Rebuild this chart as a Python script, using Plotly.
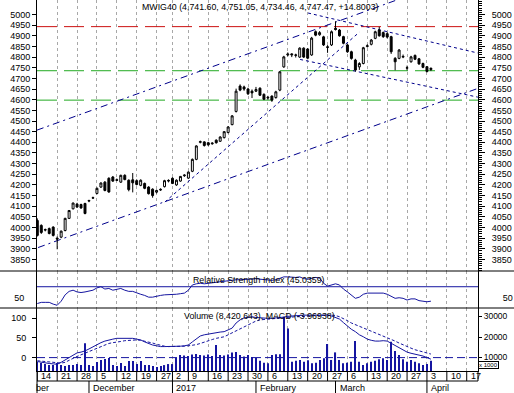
import pandas as pd
import plotly.graph_objects as go

# ---------------- data ----------------
HOLIDAYS = ["2016-12-26", "2017-01-06"]
calendar = [d.strftime("%Y-%m-%d") for d in pd.bdate_range("2016-11-14", "2017-04-21")
            if d.strftime("%Y-%m-%d") not in HOLIDAYS]

opens = [4033, 4010, 3988, 3995, 4002, 3950, 3955, 3986, 4043, 4088,
         4110, 4108, 4113, 4124, 4138, 4160, 4190, 4213, 4231, 4237,
         4224, 4213, 4245, 4222, 4224, 4220, 4198, 4207, 4190, 4180,
         4166, 4176, 4192, 4218, 4231, 4200, 4218, 4243, 4232, 4264,
         4320, 4400, 4402, 4398, 4393, 4410, 4405, 4422, 4446, 4483,
         4545, 4664, 4660, 4650, 4640, 4640, 4654, 4625, 4608, 4617,
         4610, 4645, 4754, 4810, 4815, 4808, 4800, 4842, 4838, 4810,
         4919, 4905, 4895, 4845, 4857, 4935, 4927, 4896, 4857, 4825,
         4786, 4754, 4770, 4850, 4860, 4888, 4927, 4915, 4910, 4896,
         4794, 4794, 4800, 4748, 4778, 4808, 4792, 4770, 4755, 4741.60]
highs = [4043, 4015, 3995, 4000, 4006, 3958, 3986, 4046, 4082, 4117,
         4116, 4112, 4116, 4130, 4145, 4188, 4212, 4218, 4236, 4242,
         4230, 4248, 4250, 4226, 4256, 4226, 4226, 4211, 4194, 4184,
         4178, 4184, 4224, 4226, 4236, 4226, 4242, 4250, 4264, 4324,
         4386, 4408, 4405, 4402, 4400, 4414, 4428, 4452, 4476, 4528,
         4652, 4672, 4666, 4656, 4648, 4660, 4658, 4630, 4618, 4620,
         4642, 4735, 4806, 4822, 4818, 4816, 4846, 4846, 4842, 4895,
         4925, 4922, 4900, 4856, 4925, 4968, 4932, 4900, 4862, 4830,
         4792, 4776, 4848, 4860, 4885, 4924, 4942, 4920, 4916, 4900,
         4800, 4838, 4812, 4760, 4806, 4812, 4796, 4774, 4758, 4751.05]
lows = [3958, 3970, 3982, 3968, 3958, 3898, 3950, 3982, 4040, 4085,
        4093, 4088, 4062, 4119, 4134, 4156, 4186, 4170, 4163, 4214,
        4218, 4210, 4222, 4170, 4165, 4198, 4194, 4180, 4155, 4140,
        4160, 4172, 4188, 4212, 4204, 4196, 4215, 4238, 4228, 4260,
        4316, 4395, 4380, 4384, 4389, 4394, 4402, 4418, 4442, 4480,
        4540, 4640, 4642, 4622, 4608, 4636, 4618, 4598, 4600, 4590,
        4605, 4640, 4750, 4804, 4800, 4798, 4796, 4796, 4790, 4806,
        4898, 4900, 4852, 4820, 4852, 4925, 4896, 4860, 4820, 4788,
        4732, 4740, 4766, 4845, 4855, 4884, 4896, 4890, 4888, 4815,
        4738, 4790, 4795, 4738, 4774, 4786, 4764, 4748, 4728, 4734.46]
closes = [3963, 3977, 3990, 3972, 3963, 3946, 3983, 4043, 4080, 4115,
          4096, 4092, 4066, 4127, 4140, 4184, 4209, 4174, 4167, 4218,
          4222, 4245, 4225, 4178, 4210, 4202, 4222, 4184, 4159, 4150,
          4174, 4179, 4220, 4221, 4207, 4222, 4240, 4246, 4260, 4320,
          4383, 4403, 4385, 4388, 4396, 4398, 4425, 4450, 4472, 4524,
          4640, 4645, 4650, 4628, 4632, 4648, 4621, 4602, 4611, 4598,
          4637, 4731, 4801, 4814, 4811, 4810, 4842, 4800, 4795, 4889,
          4903, 4915, 4857, 4848, 4919, 4930, 4900, 4865, 4825, 4794,
          4739, 4770, 4844, 4853, 4880, 4919, 4900, 4896, 4894, 4825,
          4778, 4833, 4803, 4750, 4801, 4790, 4768, 4752, 4732.67, 4747.47]

volumes_k = [7800, 7300, 6800, 6300, 6300, 7300, 6300, 5800, 6300, 6300,
             6800, 6300, 17000, 6300, 5900, 7800, 8800, 9300, 9700, 6300,
             5900, 7300, 5900, 8300, 8300, 6800, 8300, 6300, 6300, 5900,
             5400, 5900, 6300, 6800, 6800, 9800, 11200, 11000, 10700, 11500,
             11700, 11200, 11000, 11500, 10700, 16100, 11200, 11000, 11500, 12400,
             12700, 11200, 10500, 11200, 10200, 9800, 8400, 7500, 7200, 11200,
             11600, 11600, 29900, 24200, 7950, 8400, 8800, 7950, 8600, 7200,
             7500, 8800, 9600, 16600, 8800, 12500, 8800, 7200, 7500, 7950,
             18050, 7950, 6340, 7200, 7950, 8400, 9200, 9600, 8800, 17700,
             13200, 11200, 9200, 7950, 8800, 7950, 7200, 6340, 6800, 8420]

rsi = [41, 43, 43, 43, 40, 38, 45, 56, 62, 64,
       61, 60, 61, 62, 64, 68, 70, 66, 67, 64,
       66, 67, 64, 62, 62, 59, 57, 55, 52, 52,
       54, 55, 56, 56, 56, 57, 58, 59, 64, 73,
       75, 76, 75, 76, 77, 78, 79, 80, 81, 82,
       82, 82, 83, 83, 83, 84, 83, 82, 82, 81,
       82, 85, 87, 87, 86, 86, 87, 84, 83, 85,
       86, 85, 76, 71, 73, 75, 73, 66, 61, 56,
       50, 52, 57, 59, 59, 60, 60, 59, 57, 53,
       50, 51, 50, 47, 49, 49, 46, 45, 44, 45.04]

macd = [-10, -12, -14, -15, -16, -17, -12, -6, 0, 6,
        12, 14, 17, 22, 28, 33, 38, 42, 45, 47,
        49, 49, 49, 49, 49, 47, 45, 40, 35, 32,
        30, 28, 28, 28, 28, 28, 29, 30, 32, 40,
        48, 55, 58, 60, 62, 63, 65, 66, 70, 75,
        88, 96, 101, 103, 104, 102, 101, 100, 100, 100,
        101, 101, 103, 105, 106, 107, 108, 108, 108, 108,
        108, 108, 108, 108, 106, 102, 98, 89, 80, 72,
        66, 58, 53, 47, 44, 42, 42, 43, 42, 36,
        30, 24, 18, 14, 11, 9, 7, 4, 0, -4]
signal = [-8, -9, -10, -11, -12, -13, -14, -12, -8, -2,
          3, 7, 11, 15, 20, 25, 29, 33, 36, 38,
          39, 41, 43, 44, 45, 45, 44, 42, 40, 37,
          34, 31, 29, 28, 28, 28, 28, 29, 30, 31,
          33, 36, 40, 43, 46, 49, 51, 53, 58, 63,
          68, 72, 78, 84, 89, 93, 96, 97, 98, 98,
          99, 100, 101, 102, 103, 104, 104, 105, 106, 106,
          107, 107, 108, 108, 108, 107, 104, 100, 94, 88,
          84, 80, 75, 70, 66, 62, 58, 54, 50, 46,
          42, 37, 32, 28, 24, 20, 17, 14, 11, 9]

# chart annotations (levels and trendlines: trading-day index, price)
red_level = 4943
green_levels = [4736, 4598]
rsi_level = 70
channel_upper = ([-0.1, 95.0], [4457, 5099])
channel_lower = ([0.2, 110.8], [3906, 4653])
steep_line = ([32.1, 81.0], [4120, 4917])
desc_upper = ([68.1, 110.8], [5007, 4819])
desc_lower = ([66.1, 110.8], [4789, 4612])

tick_dates = ["2016-11-14", "2016-11-21", "2016-11-28", "2016-12-05", "2016-12-12", "2016-12-19",
              "2016-12-27", "2017-01-02", "2017-01-09", "2017-01-16", "2017-01-23", "2017-01-30",
              "2017-02-06", "2017-02-13", "2017-02-20", "2017-02-27", "2017-03-06", "2017-03-13",
              "2017-03-20", "2017-03-27", "2017-04-03", "2017-04-10", "2017-04-17"]
tick_labels = ["14", "21", "28", "5", "12", "19", "27", "2", "9", "16", "23", "30",
               "6", "13", "20", "27", "6", "13", "20", "27", "3", "10", "17"]
month_dates = ["2016-12-01", "2017-01-02", "2017-02-01", "2017-03-01", "2017-04-03"]
month_labels = ["December", "2017", "February", "March", "April"]
price_ticks = list(range(3850, 5001, 50))
volume_ticks = [10000, 20000, 30000]
volume_tick_labels = ["10000", "20000", "30000"]

title_text = "MWIG40 (4,741.60, 4,751.05, 4,734.46, 4,747.47, +14.8003)"
rsi_text = "Relative Strength Index (45.0359)"
vol_text = "Volume (8,420,643), MACD (-3.96938)"

# ---------------- geometry helpers ----------------
W, H = 514, 393
ML, MR, MT, MB = 37, 36, 0, 22
PW, PH = W - ML - MR, H - MT - MB


def py(p):
    return (PH - p) / PH


def px(p):
    return (p - ML) / PW


def pos(d):
    return calendar.index(d)


N = len(opens)
xi = list(range(N))
tick_pos = [pos(d) for d in tick_dates]
month_pos = [pos(d) for d in month_dates]
X_RANGE = [-0.075, 110.84]

FONT = "Liberation Sans, Arial, sans-serif"
NAVY = "#00008b"
BLUE = "#1515a0"

fig = go.Figure()

# price panel
for lvl, col in [(red_level, "#cc1111")] + [(g, "#22aa22") for g in green_levels]:
    fig.add_trace(go.Scatter(x=X_RANGE, y=[lvl, lvl], mode="lines", xaxis="x3", yaxis="y3",
                             line=dict(color=col, width=1, dash="20px,7px"), hoverinfo="skip"))
for (lx, ly) in [channel_upper, channel_lower]:
    fig.add_trace(go.Scatter(x=lx, y=ly, mode="lines", xaxis="x3", yaxis="y3",
                             line=dict(color=NAVY, width=1, dash="7px,4px,2px,4px"), hoverinfo="skip"))
for (lx, ly) in [steep_line, desc_upper, desc_lower]:
    fig.add_trace(go.Scatter(x=lx, y=ly, mode="lines", xaxis="x3", yaxis="y3",
                             line=dict(color=NAVY, width=1, dash="3px,3px"), hoverinfo="skip"))
fig.add_trace(go.Candlestick(x=xi, open=opens, high=highs, low=lows, close=closes,
                             xaxis="x3", yaxis="y4", whiskerwidth=0,
                             increasing=dict(fillcolor="white", line=dict(color="black", width=1)),
                             decreasing=dict(fillcolor="black", line=dict(color="black", width=1))))

# RSI panel
fig.add_trace(go.Scatter(x=xi, y=rsi, mode="lines", xaxis="x2", yaxis="y2",
                         line=dict(color=BLUE, width=1)))
fig.add_trace(go.Scatter(x=X_RANGE, y=[rsi_level, rsi_level], mode="lines", xaxis="x2", yaxis="y5",
                         line=dict(color=BLUE, width=1)))

# volume / MACD panel
fig.add_trace(go.Bar(x=xi, y=volumes_k, xaxis="x", yaxis="y", width=0.28,
                     marker=dict(color=BLUE, line=dict(width=0))))
fig.add_trace(go.Scatter(x=X_RANGE, y=[0, 0], mode="lines", xaxis="x", yaxis="y6",
                         line=dict(color=BLUE, width=1, dash="8px,4px")))
fig.add_trace(go.Scatter(x=xi, y=signal, mode="lines", xaxis="x", yaxis="y6",
                         line=dict(color=BLUE, width=1, dash="3px,2px")))
fig.add_trace(go.Scatter(x=xi, y=macd, mode="lines", xaxis="x", yaxis="y6",
                         line=dict(color=BLUE, width=1)))

xcommon = dict(range=X_RANGE, tickmode="array", tickvals=tick_pos, showticklabels=False,
               ticks="", showgrid=True, gridcolor="#a8a8a8", griddash="3px,3px", gridwidth=1,
               zeroline=False, fixedrange=True)


def yax(size=9, **kw):
    d = dict(showgrid=False, zeroline=False, showline=True, linecolor="black", linewidth=1,
             tickcolor="black", tickfont=dict(size=size, color="black", family=FONT), fixedrange=True)
    d.update(kw)
    return d


D_PRICE = [py(271), 1]
D_RSI = [py(308), py(271)]
D_VOL = [0, py(308)]

fig.update_layout(
    width=W, height=H, margin=dict(l=ML, r=MR, t=MT, b=MB, pad=0),
    paper_bgcolor="white", plot_bgcolor="white", showlegend=False,
    font=dict(family=FONT, size=9, color="black"),
    xaxis=dict(**xcommon, anchor="y", showline=True, linecolor="black", linewidth=1),
    xaxis2=dict(**xcommon, anchor="y2", matches="x"),
    xaxis3=dict(**xcommon, anchor="y3", matches="x", rangeslider=dict(visible=False)),
    yaxis=yax(8.5, domain=D_VOL, anchor="x", side="right", range=[3415, 34146],
              tickmode="array", tickvals=volume_ticks, ticktext=volume_tick_labels,
              ticks="outside", ticklen=3),
    yaxis6=yax(9, overlaying="y", anchor="x", side="left", range=[-34.1, 126.2],
               tickmode="array", tickvals=[0, 50, 100], ticks="outside", ticklen=4,
               ticklabelstandoff=4),
    yaxis2=yax(9, domain=D_RSI, anchor="x2", range=[33.3, 97.1],
               tickmode="array", tickvals=[50], ticks="", ticklabelstandoff=10),
    yaxis5=yax(9, overlaying="y2", anchor="x2", side="right", range=[33.3, 97.1],
               tickmode="array", tickvals=[50], ticks="", ticklabelstandoff=22),
    yaxis3=yax(9, domain=D_PRICE, anchor="x3", range=[3796, 5068],
               tickmode="array", tickvals=price_ticks, ticks="outside", ticklen=4),
    yaxis4=yax(9, overlaying="y3", anchor="x3", side="right", range=[3796, 5068],
               tickmode="array", tickvals=price_ticks, ticks="outside", ticklen=6,
               ticklabelstandoff=5,
               minor=dict(tickmode="linear", tick0=0, dtick=10, ticks="outside", ticklen=3,
                          tickcolor="black")),
)

shapes = []
for yy in (271, 308):
    shapes.append(dict(type="line", xref="paper", yref="paper", x0=px(0), x1=px(W), y0=py(yy), y1=py(yy),
                       line=dict(color="black", width=1)))
for t in tick_pos:
    shapes.append(dict(type="line", xref="x", yref="paper", x0=t, x1=t, y0=py(371), y1=py(381),
                       line=dict(color="black", width=1)))
shapes.append(dict(type="line", xref="paper", yref="paper", x0=0, x1=1, y0=py(381), y1=py(381),
                   line=dict(color="black", width=1)))
shapes.append(dict(type="line", xref="paper", yref="paper", x0=0, x1=0, y0=py(371), y1=py(393),
                   line=dict(color="black", width=1)))
shapes.append(dict(type="line", xref="paper", yref="paper", x0=1, x1=1, y0=py(371), y1=py(381),
                   line=dict(color="black", width=1)))
for m in month_pos:
    shapes.append(dict(type="line", xref="x", yref="paper", x0=m, x1=m, y0=py(381), y1=py(393),
                       line=dict(color="black", width=1)))
fig.update_layout(shapes=shapes)

ann = []
ann.append(dict(text=title_text, xref="paper", yref="paper", x=px(140), y=py(7.5), xanchor="left",
                yanchor="middle", showarrow=False, font=dict(size=8.8)))
ann.append(dict(text=rsi_text, xref="paper", yref="paper", x=px(191), y=py(279.5), xanchor="left",
                yanchor="middle", showarrow=False, font=dict(size=8.8)))
ann.append(dict(text=vol_text, xref="paper", yref="paper", x=px(182), y=py(316), xanchor="left",
                yanchor="middle", showarrow=False, font=dict(size=8.8)))
ann.append(dict(text="x 1000", xref="paper", yref="paper", x=px(488.5), y=py(365), xanchor="center",
                yanchor="middle", showarrow=False, font=dict(size=6), bordercolor="black",
                borderwidth=1, borderpad=0, bgcolor="white"))
for t, lab in zip(tick_pos, tick_labels):
    ann.append(dict(text=lab, xref="x", yref="paper", x=t, y=py(376), xanchor="left", xshift=2,
                    yanchor="middle", showarrow=False, font=dict(size=9)))
for m, lab in zip(month_pos, month_labels):
    ann.append(dict(text=lab, xref="x", yref="paper", x=m, y=py(388), xanchor="left", xshift=2,
                    yanchor="middle", showarrow=False, font=dict(size=9)))
ann.append(dict(text="ber", xref="paper", yref="paper", x=px(34), y=py(388), xanchor="left",
                yanchor="middle", showarrow=False, font=dict(size=9)))
fig.update_layout(annotations=ann)

fig.write_html("out.html", config={"displayModeBar": False},
               post_script="document.body.style.margin='0';document.body.style.overflow='hidden';")
